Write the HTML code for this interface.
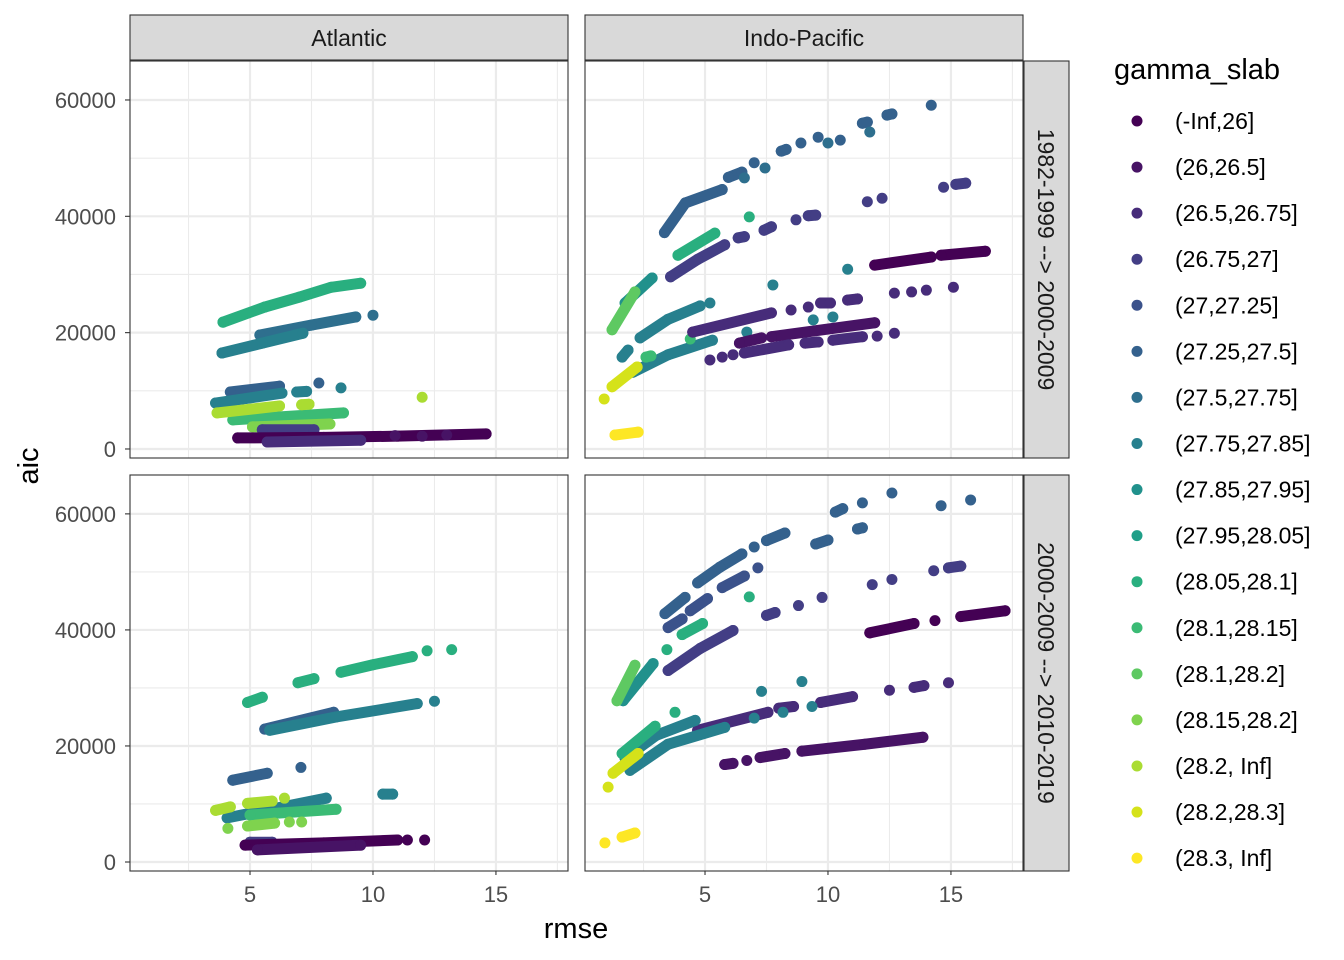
<!DOCTYPE html>
<html><head><meta charset="utf-8"><style>
body{margin:0;background:#fff}
svg{display:block;font-family:"Liberation Sans",sans-serif}
</style></head><body>
<svg id="chart" width="1344" height="960" viewBox="0 0 1344 960"></svg>
<script>
const legendLabels=["(-Inf,26]","(26,26.5]","(26.5,26.75]","(26.75,27]","(27,27.25]","(27.25,27.5]","(27.5,27.75]","(27.75,27.85]","(27.85,27.95]","(27.95,28.05]","(28.05,28.1]","(28.1,28.15]","(28.1,28.2]","(28.15,28.2]","(28.2, Inf]","(28.2,28.3]","(28.3, Inf]"];
const colors=["#440154","#471365","#472C7A","#433E85","#3B528B","#34618D","#2E6F8E","#27808E","#21918C","#1F9F88","#29AF7F","#3BBB75","#5EC962","#7FD34E","#AADC32","#D5E21A","#FDE725"];
// data level codes -> legend level index
const levelIndex=[0,1,2,3,4,5,6,7,8,10,11,12,13,14,15,16];
const xTicks=[5,10,15];
const yTicks=[0,20000,40000,60000];
const basins=["Atlantic","Indo-Pacific"];
const periods=["1982-1999 --> 2000-2009","2000-2009 --> 2010-2019"];
// runs: [level code, [[rmse, aic], ...]]
const atlTop=[
[9,[[3.9,21800],[5.6,24400],[7.0,26100],[8.3,27800],[9.5,28500]]],
[6,[[5.4,19600],[7.5,21300],[9.3,22700]]],[6,[[10.0,23000]]],
[7,[[3.86,16500],[5.5,18200],[7.15,19900]]],
[5,[[4.2,9800],[6.2,10800]]],[5,[[7.8,11350]]],
[7,[[3.6,7900],[6.3,9600]]],[7,[[6.9,9800],[7.3,9900]]],[7,[[8.7,10500]]],
[10,[[4.3,5000],[8.8,6200]]],
[13,[[3.66,6200],[6.2,7400]]],[13,[[7.1,7600],[7.4,7700]]],[13,[[12.0,8900]]],
[12,[[5.1,3800],[8.25,4300]]],
[3,[[5.5,3300],[7.6,3300]]],
[0,[[4.5,1900],[8,2000],[11,2200],[14.6,2600]]],
[2,[[5.7,1200],[9.5,1500]]],[1,[[10.9,2300]]],[1,[[12.0,2200]]],[1,[[13.0,2400]]]
];
const atlBottom=[
[9,[[4.9,27500],[5.5,28400]]],[9,[[6.95,30900],[7.6,31600]]],[9,[[8.7,32700],[10,34000],[11.6,35400]]],[9,[[12.2,36400]]],[9,[[13.2,36600]]],
[5,[[5.6,22900],[8.4,25800]]],
[7,[[5.8,22700],[8.5,25000],[11.8,27300]]],[7,[[12.5,27700]]],
[5,[[4.3,14100],[5.7,15300]]],[5,[[7.07,16300]]],
[7,[[4.07,7600],[8.1,11000]]],[7,[[10.4,11700],[10.8,11700]]],
[13,[[3.6,8900],[4.2,9500]]],[13,[[4.9,10100],[5.9,10500]]],[13,[[6.4,11000]]],
[10,[[5.0,8100],[8.5,9100]]],
[12,[[4.1,5800]]],[12,[[4.9,6200],[6.0,6700]]],[12,[[6.6,6900]]],[12,[[7.1,6900]]],
[3,[[5.0,3400],[5.9,3400]]],
[0,[[4.8,2900],[8,3300],[11,3800]]],[0,[[11.4,3800]]],[0,[[12.1,3800]]],
[1,[[5.3,2100],[9.5,2900]]]
];
const ipTop=[
[5,[[3.35,37200],[4.2,42300],[5.7,44600]]],[5,[[5.95,46700],[6.5,47600]]],[6,[[6.6,46600]]],
[5,[[7.0,49200]]],[6,[[7.44,48300]]],[5,[[8.1,51200],[8.3,51500]]],[5,[[8.9,52600]]],[5,[[9.6,53600]]],[6,[[10.0,52600]]],[5,[[10.5,53100]]],
[5,[[11.4,56000],[11.6,56200]]],[6,[[11.7,54500]]],[5,[[12.4,57400],[12.6,57600]]],[5,[[14.2,59100]]],
[3,[[3.6,29600],[4.7,32600],[5.8,35100]]],[3,[[6.35,36300],[6.6,36500]]],[3,[[7.4,37600],[7.7,38200]]],[3,[[8.7,39400]]],[3,[[9.2,40100],[9.5,40200]]],
[3,[[11.6,42500]]],[3,[[12.2,43100]]],[3,[[14.7,45000]]],[3,[[15.2,45500],[15.6,45700]]],
[9,[[3.9,33300],[5.4,37100]]],[9,[[6.8,39900]]],
[7,[[2.36,19100],[3.5,22300],[4.8,24600]]],[7,[[5.2,25100]]],[7,[[1.63,15800],[1.87,17000]]],
[7,[[2.07,13200],[3.5,16200],[5.3,18700]]],
[7,[[7.76,28200]]],[7,[[10.8,30900]]],[7,[[9.4,22200]]],[7,[[10.2,22700]]],[7,[[6.7,20100]]],
[10,[[4.4,18900]]],[10,[[2.6,15800],[2.8,16000]]],
[8,[[1.75,25100],[2.85,29400]]],
[11,[[1.22,20500],[2.15,27000]]],
[14,[[1.22,10700],[2.24,14100]]],[14,[[0.9,8600]]],
[15,[[1.34,2400],[2.28,2900]]],
[0,[[11.9,31600],[14.2,33000]]],[0,[[14.6,33300],[16.4,34000]]],
[2,[[4.5,20100],[7.7,23400]]],[2,[[8.5,23900]]],[2,[[9.2,24400]]],[2,[[9.7,25100],[10.1,25100]]],[2,[[10.8,25600],[11.2,25800]]],
[2,[[12.7,26800]]],[2,[[13.4,27000]]],[2,[[14.0,27300]]],[2,[[15.1,27800]]],
[1,[[6.4,18200],[7.3,19100]]],[1,[[7.7,19300],[11.9,21700]]],
[2,[[5.2,15300]]],[2,[[5.7,15800]]],[2,[[6.14,16200]]],[2,[[6.6,16500],[8.4,17900]]],[2,[[9.07,18200],[9.6,18400]]],[2,[[10.2,18700],[11.4,19300]]],[2,[[12.0,19400]]],[2,[[12.7,19900]]]
];
const ipBottom=[
[5,[[3.37,42800],[4.19,45600]]],[5,[[4.7,48100],[5.6,50800],[6.5,53100]]],[5,[[7.0,54300]]],[5,[[7.5,55400],[8.25,56700]]],[5,[[9.5,54800],[10.0,55500]]],
[5,[[10.3,60300],[10.6,60900]]],[5,[[11.4,61900]]],[5,[[12.6,63600]]],[5,[[14.6,61400]]],[5,[[15.8,62400]]],[5,[[11.2,57400],[11.4,57600]]],
[4,[[3.5,40400],[4.07,41900]]],[4,[[4.4,43300],[5.1,45400]]],[4,[[5.7,47300],[6.6,49300]]],[4,[[7.15,50700]]],
[3,[[3.5,33000],[4.8,36800],[6.14,39900]]],[3,[[7.5,42500],[7.85,43000]]],[3,[[8.8,44200]]],[3,[[9.76,45600]]],[3,[[11.8,47800]]],[3,[[12.6,48700]]],[3,[[14.3,50200]]],[3,[[14.9,50700],[15.4,51000]]],
[9,[[6.8,45700]]],[9,[[3.45,36600]]],[9,[[4.07,39200],[4.9,41100]]],
[8,[[1.67,27800],[2.89,34200]]],
[11,[[1.42,27800],[2.15,33900]]],
[0,[[11.7,39500],[13.5,41100]]],[0,[[14.35,41600]]],[0,[[15.4,42300],[17.2,43300]]],
[2,[[4.7,22700],[7.56,25800]]],[2,[[8.0,26500],[8.6,26800]]],[2,[[9.7,27500],[11.0,28500]]],[2,[[12.5,29600]]],[2,[[13.5,30100],[13.9,30400]]],[2,[[14.9,30900]]],
[7,[[1.75,17900],[3.0,21800],[4.6,24400]]],[7,[[1.95,15800],[3.5,20300],[5.8,23200]]],
[7,[[7.3,29400]]],[7,[[8.94,31100]]],[7,[[9.35,26800]]],[7,[[8.17,25800]]],[7,[[7.0,24800]]],
[9,[[1.63,18700],[2.97,23400]]],[9,[[3.78,25800]]],
[14,[[1.06,12900]]],[14,[[1.26,15300],[2.28,18700]]],
[15,[[0.93,3300]]],[15,[[1.63,4300],[2.15,5000]]],
[1,[[5.8,16800],[6.14,17000]]],[1,[[6.7,17500]]],[1,[[7.24,18000],[8.25,18700]]],[1,[[8.94,19100],[11.5,20300],[13.86,21500]]]
];
const panelRuns=[[atlTop,ipTop],[atlBottom,ipBottom]];

const NS="http://www.w3.org/2000/svg";
const svg=document.getElementById('chart');
function el(tag,attrs,parent,text){const e=document.createElementNS(NS,tag);for(const k in attrs)e.setAttribute(k,attrs[k]);if(text!==undefined)e.textContent=text;(parent||svg).appendChild(e);return e;}
const colX=[[130,568],[585,1023]];
const rowY=[[61,458],[475,871]];
const xMin=0.12,xMax=17.93,yMin=-1550,yMax=66700;
function sx(c,v){const[a,b]=colX[c];return a+(v-xMin)/(xMax-xMin)*(b-a);}
function sy(r,v){const[a,b]=rowY[r];return b-(v-yMin)/(yMax-yMin)*(b-a);}

for(let r=0;r<2;r++)for(let c=0;c<2;c++){
  const g=el('g',{});
  
  
  const [x0,x1]=colX[c],[y0,y1]=rowY[r];
  el('rect',{x:x0,y:y0,width:x1-x0,height:y1-y0,fill:'#fff'},g);
  for(const v of [2.5,7.5,12.5,17.5]){const x=sx(c,v);el('line',{x1:x,x2:x,y1:y0,y2:y1,stroke:'#EBEBEB','stroke-width':1.1},g);}
  for(const v of [10000,30000,50000]){const y=sy(r,v);el('line',{x1:x0,x2:x1,y1:y,y2:y,stroke:'#EBEBEB','stroke-width':1.1},g);}
  for(const v of xTicks){const x=sx(c,v);el('line',{x1:x,x2:x,y1:y0,y2:y1,stroke:'#EBEBEB','stroke-width':2.2},g);}
  for(const v of yTicks){const y=sy(r,v);el('line',{x1:x0,x2:x1,y1:y,y2:y,stroke:'#EBEBEB','stroke-width':2.2},g);}
  for(const run of panelRuns[r][c]){
    const col=colors[levelIndex[run[0]]],pts=run[1];
    if(pts.length>1){
      const pl=el('polyline',{points:pts.map(p=>sx(c,p[0])+','+sy(r,p[1])).join(' '),fill:'none',stroke:col,'stroke-width':11,'stroke-linecap':'round','stroke-linejoin':'round'},g);
      
      
    }
    for(const p of pts){
      const ci=el('circle',{cx:sx(c,p[0]),cy:sy(r,p[1]),r:5.5,fill:col},g);
      
      
    }
  }
  el('rect',{x:x0,y:y0,width:x1-x0,height:y1-y0,fill:'none',stroke:'#333','stroke-width':1.1},g);
  if(r===1){for(const v of xTicks){const x=sx(c,v);el('line',{x1:x,x2:x,y1:y1,y2:y1+4,stroke:'#333','stroke-width':1.1},g);
    const t=el('text',{x:x,y:y1+31,'text-anchor':'middle','font-size':22,fill:'#4D4D4D'},g,v);
    }}
  if(c===0){for(const v of yTicks){const y=sy(r,v);el('line',{x1:x0-5,x2:x0,y1:y,y2:y,stroke:'#333','stroke-width':1.1},g);
    const t=el('text',{x:x0-14,y:y+8,'text-anchor':'end','font-size':22,fill:'#4D4D4D'},g,v);
    }}
}
for(let c=0;c<2;c++){
  const [x0,x1]=colX[c];
  const g=el('g',{});
  
  
  el('rect',{x:x0,y:15,width:x1-x0,height:45,fill:'#D9D9D9',stroke:'#333','stroke-width':1.1},g);
  el('text',{x:(x0+x1)/2,y:46,'text-anchor':'middle','font-size':23,fill:'#1A1A1A'},g,basins[c]);
}
for(let r=0;r<2;r++){
  const [y0,y1]=rowY[r];
  const g=el('g',{});
  
  
  el('rect',{x:1024,y:y0,width:45,height:y1-y0,fill:'#D9D9D9',stroke:'#333','stroke-width':1.1},g);
  const cy=(y0+y1)/2;
  el('text',{x:1038,y:cy,'text-anchor':'middle','font-size':23,fill:'#1A1A1A',transform:`rotate(90 1038 ${cy})`},g,periods[r]);
}
const xt=el('text',{x:576,y:938,'text-anchor':'middle','font-size':29,fill:'#000'},svg,'rmse');

const yt=el('text',{x:38,y:466,'text-anchor':'middle','font-size':29,fill:'#000',transform:'rotate(-90 38 466)'},svg,'aic');

const lg=el('g',{});

el('text',{x:1114,y:79,'font-size':29,fill:'#000'},lg,'gamma_slab');
for(let i=0;i<legendLabels.length;i++){
  const y=121+i*46.07;
  const e=el('g',{},lg);
  
  
  el('circle',{cx:1137,cy:y,r:5.5,fill:colors[i]},e);
  el('text',{x:1175,y:y+8,'font-size':23,fill:'#000'},e,legendLabels[i]);
}
</script>
</body></html>
